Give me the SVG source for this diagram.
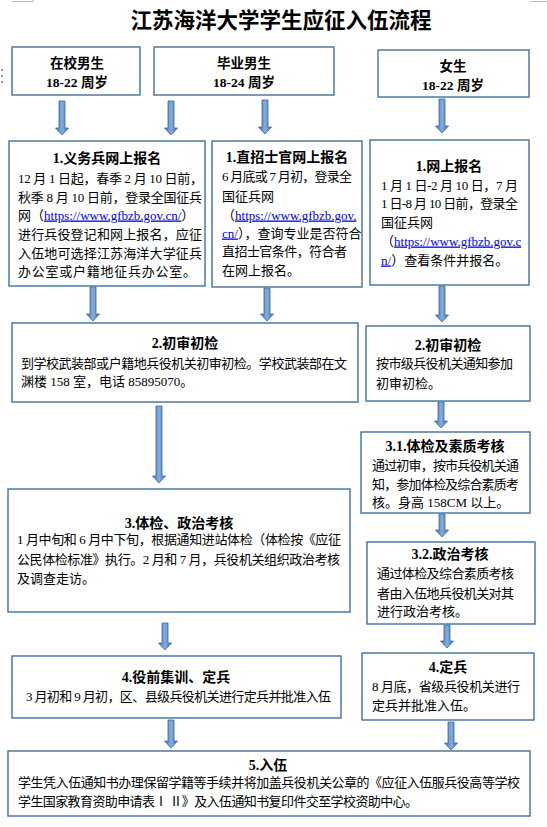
<svg xmlns="http://www.w3.org/2000/svg" width="547" height="827" viewBox="0 0 547 827">
<style>
.box{fill:#fff;stroke:#41719c;stroke-width:1.4}
.t{font-family:"Liberation Serif","Noto Sans CJK SC",serif;font-size:13px;fill:#000}
.h{font-family:"Liberation Serif","Noto Sans CJK SC",serif;font-weight:bold;font-size:14px;fill:#000;text-anchor:middle}
.lk{fill:#0000ee;text-decoration:underline}
.arr{fill:url(#ag);stroke:#3b6ca0;stroke-width:0.8}
.mk{fill:none;stroke:#bbb;stroke-width:1}
</style>
<defs>
<linearGradient id="ag" x1="0" y1="0" x2="1" y2="0">
<stop offset="0" stop-color="#3d6ea8"/>
<stop offset="0.5" stop-color="#86ade0"/>
<stop offset="1" stop-color="#3d6ea8"/>
</linearGradient>
</defs>
<rect width="547" height="827" fill="#fff"/>
<path class="mk" d="M12,1.5 H33 V0 M547,1.5 H530"/>
<g fill="#999"><rect x="1" y="69" width="2" height="2"/><rect x="1" y="75" width="2" height="2"/><rect x="1" y="81" width="2" height="2"/></g>
<text x="281" y="28" text-anchor="middle" style="font-family:'Liberation Serif','Noto Sans CJK SC',serif;font-weight:bold;font-size:21.5px">江苏海洋大学学生应征入伍流程</text>

<g id="connectors">
<path class="arr" d="M59,101 H65 V128 H68.5 L62,135 L55.5,128 H59 Z"/>
<path class="arr" d="M168,101 H174 V128 H177.5 L171,135 L164.5,128 H168 Z"/>
<path class="arr" d="M262,100 H268 V127 H271.5 L265,134 L258.5,127 H262 Z"/>
<path class="arr" d="M439,99 H445 V126 H448.5 L442,133 L435.5,126 H439 Z"/>
<path class="arr" d="M90,287 H96 V314 H99.5 L93,321 L86.5,314 H90 Z"/>
<path class="arr" d="M264,288 H270 V314 H273.5 L267,321 L260.5,314 H264 Z"/>
<path class="arr" d="M439,286 H445 V315 H448.5 L442,322 L435.5,315 H439 Z"/>
<path class="arr" d="M156,406 H162 V476 H165.5 L159,483 L152.5,476 H156 Z"/>
<path class="arr" d="M438,402 H444 V421 H447.5 L441,428 L434.5,421 H438 Z"/>
<path class="arr" d="M439,514 H445 V530 H448.5 L442,537 L435.5,530 H439 Z"/>
<path class="arr" d="M162,623 H168 V643 H171.5 L165,650 L158.5,643 H162 Z"/>
<path class="arr" d="M444,625 H450 V641 H453.5 L447,648 L440.5,641 H444 Z"/>
<path class="arr" d="M168,720 H174 V741 H177.5 L171,748 L164.5,741 H168 Z"/>
<path class="arr" d="M448,722 H454 V743 H457.5 L451,750 L444.5,743 H448 Z"/>
</g>

<g id="n-zaixiao">
<rect class="box" x="12" y="47" width="128" height="48"/>
<text class="h" x="77" y="68" style="font-size:13.5px">在校男生</text>
<text class="h" x="77" y="87" style="font-size:13.5px">18-22 周岁</text>
</g>
<g id="n-biye">
<rect class="box" x="154" y="47" width="180" height="48"/>
<text class="h" x="244" y="68" style="font-size:13.5px">毕业男生</text>
<text class="h" x="244" y="87" style="font-size:13.5px">18-24 周岁</text>
</g>
<g id="n-nvsheng">
<rect class="box" x="378" y="50" width="151" height="47"/>
<text class="h" x="453" y="71" style="font-size:13.5px">女生</text>
<text class="h" x="453" y="90" style="font-size:13.5px">18-22 周岁</text>
</g>

<g id="n-1a">
<rect class="box" x="9" y="141" width="196" height="145"/>
<text class="h" x="107" y="163">1.义务兵网上报名</text>
<text class="t" x="18" y="182.5" textLength="185" lengthAdjust="spacing">12 月 1 日起，春季 2 月 10 日前，</text>
<text class="t" x="18" y="201.5" textLength="184" lengthAdjust="spacing">秋季 8 月 10 日前，登录全国征兵</text>
<text class="t" x="18" y="219.5">网（<tspan class="lk">https://www.gfbzb.gov.cn/</tspan>）</text>
<text class="t" x="18" y="238.5" textLength="184" lengthAdjust="spacing">进行兵役登记和网上报名，应征</text>
<text class="t" x="18" y="257.5" textLength="184" lengthAdjust="spacing">入伍地可选择江苏海洋大学征兵</text>
<text class="t" x="18" y="275.5" textLength="178" lengthAdjust="spacing">办公室或户籍地征兵办公室。</text>
</g>
<g id="n-1b">
<rect class="box" x="212" y="141" width="150" height="146"/>
<text class="h" x="287" y="162">1.直招士官网上报名</text>
<text class="t" x="222" y="180.5" textLength="130" lengthAdjust="spacing">6 月底或 7 月初，登录全</text>
<text class="t" x="222" y="200.5">国征兵网</text>
<text class="t" x="222" y="219.5">（<tspan class="lk">https://www.gfbzb.gov.</tspan></text>
<text class="t" x="222" y="237.5"><tspan class="lk">cn/</tspan>），查询专业是否符合</text>
<text class="t" x="222" y="255.5" textLength="125" lengthAdjust="spacing">直招士官条件，符合者</text>
<text class="t" x="222" y="274.5">在网上报名。</text>
</g>
<g id="n-1c">
<rect class="box" x="370" y="140" width="159" height="145"/>
<text class="h" x="449" y="171">1.网上报名</text>
<text class="t" x="381" y="189.5" textLength="137" lengthAdjust="spacing">1 月 1 日-2 月 10 日，7 月</text>
<text class="t" x="381" y="207.5" textLength="137" lengthAdjust="spacing">1 日-8 月 10 日前，登录全</text>
<text class="t" x="381" y="226.5">国征兵网</text>
<text class="t" x="381" y="245.5">（<tspan class="lk">https://www.gfbzb.gov.c</tspan></text>
<text class="t" x="381" y="264.5"><tspan class="lk">n/</tspan>）查看条件并报名。</text>
</g>

<g id="n-2a">
<rect class="box" x="12" y="323" width="346" height="79"/>
<text class="h" x="185" y="348">2.初审初检</text>
<text class="t" x="21" y="367.5" textLength="326" lengthAdjust="spacing">到学校武装部或户籍地兵役机关初审初检。学校武装部在文</text>
<text class="t" x="21" y="385.5">渊楼 158 室，电话 85895070。</text>
</g>
<g id="n-2b">
<rect class="box" x="366" y="326" width="164" height="75"/>
<text class="h" x="448" y="350">2.初审初检</text>
<text class="t" x="376" y="367.5" textLength="137" lengthAdjust="spacing">按市级兵役机关通知参加</text>
<text class="t" x="376" y="387.5">初审初检。</text>
</g>

<g id="n-3">
<rect class="box" x="8" y="489" width="342" height="123"/>
<text class="h" x="179" y="528">3.体检、政治考核</text>
<text class="t" x="17" y="544" textLength="324" lengthAdjust="spacing">1 月中旬和 6 月中下旬，根据通知进站体检（体检按《应征</text>
<text class="t" x="17" y="563.5" textLength="323" lengthAdjust="spacing">公民体检标准》执行。2 月和 7 月，兵役机关组织政治考核</text>
<text class="t" x="17" y="583">及调查走访。</text>
</g>
<g id="n-3-1">
<rect class="box" x="361" y="432" width="169" height="81"/>
<text class="h" x="445" y="451">3.1.体检及素质考核</text>
<text class="t" x="372" y="469.5" textLength="147" lengthAdjust="spacing">通过初审，按市兵役机关通</text>
<text class="t" x="372" y="488.5" textLength="147" lengthAdjust="spacing">知，参加体检及综合素质考</text>
<text class="t" x="372" y="506.5">核。身高 158CM 以上。</text>
</g>
<g id="n-3-2">
<rect class="box" x="367" y="542" width="168" height="82"/>
<text class="h" x="450" y="559">3.2.政治考核</text>
<text class="t" x="377" y="577.5" textLength="137" lengthAdjust="spacing">通过体检及综合素质考核</text>
<text class="t" x="377" y="597.5" textLength="137" lengthAdjust="spacing">者由入伍地兵役机关对其</text>
<text class="t" x="377" y="615.5">进行政治考核。</text>
</g>

<g id="n-4a">
<rect class="box" x="12" y="656" width="329" height="62"/>
<text class="h" x="176" y="682">4.役前集训、定兵</text>
<text class="t" x="26" y="700.5" textLength="305" lengthAdjust="spacing">3 月初和 9 月初，区、县级兵役机关进行定兵并批准入伍</text>
</g>
<g id="n-4b">
<rect class="box" x="362" y="653" width="172" height="67"/>
<text class="h" x="448" y="672">4.定兵</text>
<text class="t" x="372" y="690.5" textLength="148" lengthAdjust="spacing">8 月底，省级兵役机关进行</text>
<text class="t" x="372" y="709.5">定兵并批准入伍。</text>
</g>

<g id="n-5">
<rect class="box" x="8" y="751" width="522" height="65"/>
<text class="h" x="268" y="770">5.入伍</text>
<text class="t" x="18" y="786.5" textLength="502" lengthAdjust="spacing">学生凭入伍通知书办理保留学籍等手续并将加盖兵役机关公章的《应征入伍服兵役高等学校</text>
<text class="t" x="18" y="805.5" textLength="400" lengthAdjust="spacing">学生国家教育资助申请表Ⅰ Ⅱ》及入伍通知书复印件交至学校资助中心。</text>
</g>
</svg>
